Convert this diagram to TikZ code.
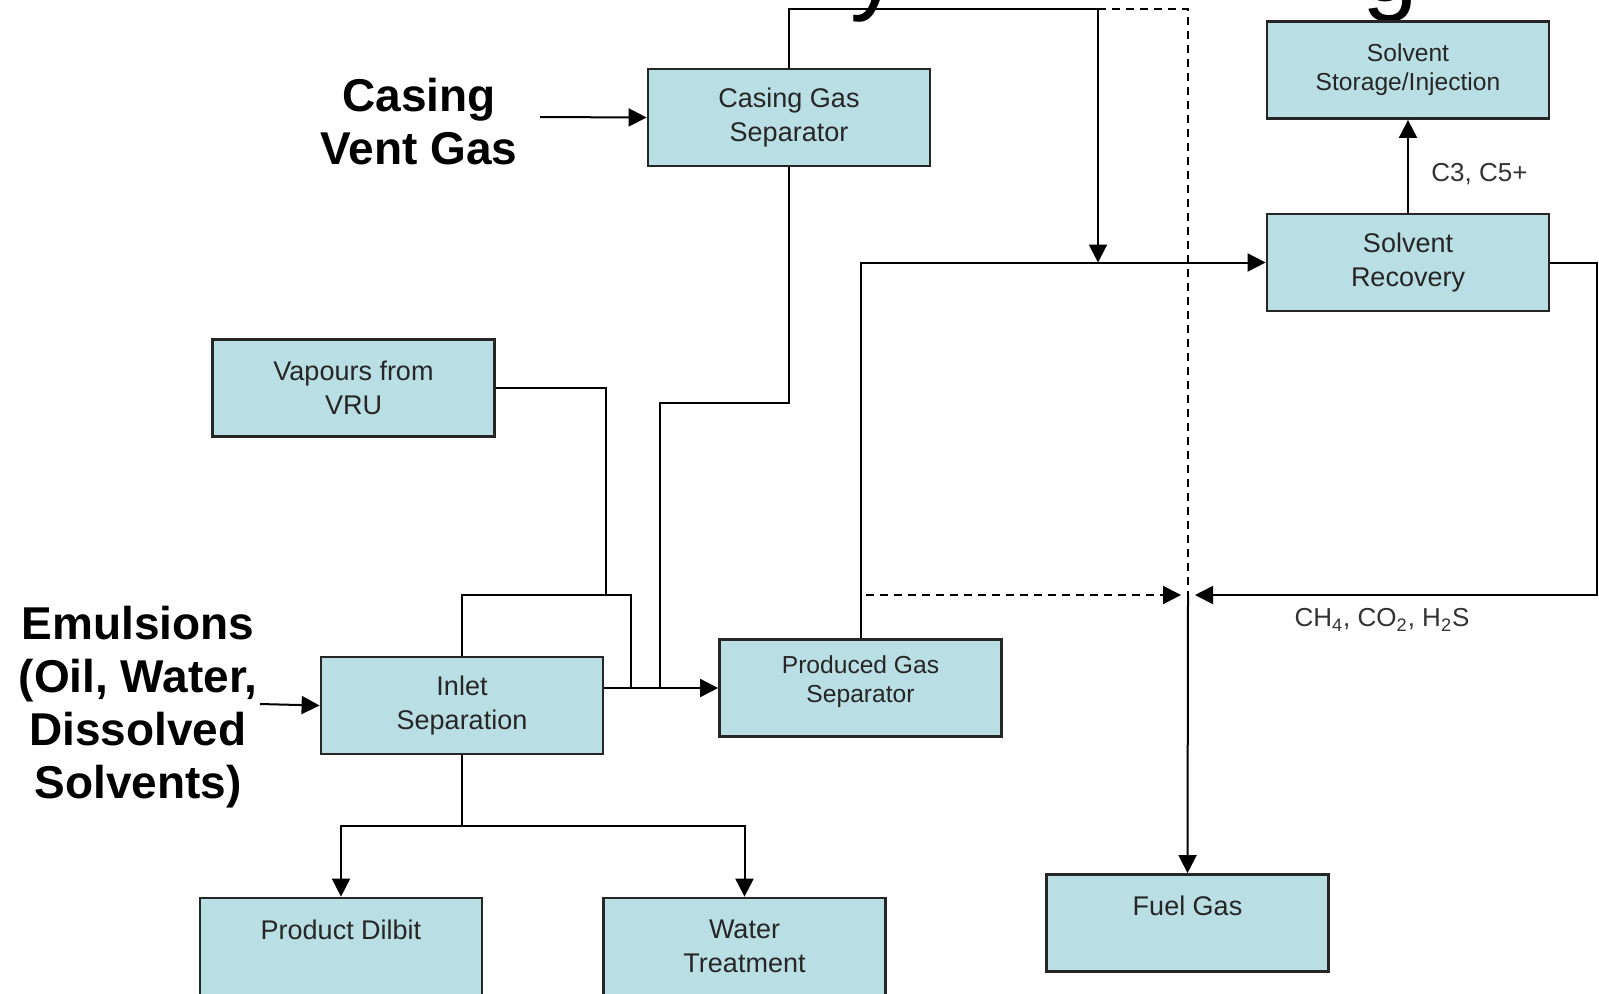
\documentclass[tikz,border=0pt]{standalone}
\usepackage{fontspec}
\setmainfont{Liberation Sans}
\usetikzlibrary{arrows.meta, positioning}
\definecolor{unitfill}{RGB}{185,222,228}

\begin{document}
\begin{tikzpicture}[
    x=0.5pt, y=-0.5pt,
    unit/.style={draw=black!85, line width=1.4pt, fill=unitfill, rectangle, minimum width=141pt, minimum height=48.5pt, inner sep=0pt, align=center, text=black!85, font=\fontsize{13.5}{17}\selectfont},
    small/.style={font=\fontsize{12.3}{14.5}\selectfont},
    feed/.style={align=center, inner sep=0pt, font=\fontsize{23}{26.5}\selectfont\bfseries},
    stream/.style={inner sep=0pt, text=black!80, font=\fontsize{13}{15}\selectfont},
    arrow/.style={-{Triangle[length=9pt, width=9pt]}, line width=1pt},
    pipe/.style={line width=1pt},
    spare/.style={line width=1pt, dash pattern=on 4pt off 3pt}
]
\useasboundingbox (0,0) rectangle (1599,993);
\clip (0,0) rectangle (1599,993);

% cut-off title
\node[anchor=base west, inner sep=0pt, font=\fontsize{50}{50}\selectfont] (ttly) at (850,1) {y};
\node[anchor=base west, inner sep=0pt, font=\fontsize{50}{50}\selectfont] (ttlg) at (1362,1) {g};

\node[unit] (csep) at (789,117.5) {Casing Gas\\Separator};
\node[unit, small] (store) at (1408,70) {Solvent\\Storage/Injection};
\node[unit] (recov) at (1408,262.5) {Solvent\\Recovery};
\node[unit] (vru) at (353.5,388) {Vapours from\\VRU};
\node[unit] (inlet) at (462,705.5) {Inlet\\Separation};
\node[unit, small, text depth=9pt] (pgs) at (860.5,688) {Produced Gas\\Separator};
\node[unit] (dilbit) at (341,946.5) {Product Dilbit\\~};
\node[unit] (water) at (744.5,946.5) {Water\\Treatment};
\node[unit] (fuel) at (1187.5,923) {Fuel Gas\\~};

\node[feed] (ventgas) at (419,122) {Casing\\Vent Gas};
\node[feed] (emul) at (138,707) {Emulsions\\(Oil, Water,\\Dissolved\\Solvents)};

\node[stream, anchor=west] (c3) at (1431,174) {C3, C5+};
\node[stream] (acid) at (1382,620) {CH\textsubscript{4}, CO\textsubscript{2}, H\textsubscript{2}S};

\coordinate (ventin) at (540,117);
\coordinate (emulin) at (260,704);
\coordinate (top) at (1098,9);
\coordinate (split) at (1188,9);
\coordinate (cross) at (1188,595);
\coordinate (edge) at (1597,595);
\coordinate (drop) at (660,403);
\coordinate (vrudrop) at (606,595);
\coordinate (loopR) at (631,595);
\coordinate (fork) at (462,826);

% feeds
\draw[arrow] (ventin) -- (csep.west);
\draw[arrow] (emulin) -- (inlet.west);

% casing gas
\draw[arrow] (csep.north) |- (top) -- (top |- recov.west);
\draw[spare] (top) -- (split) -- (cross);
\draw[arrow] (cross) -- (fuel.north);
\draw[pipe] (csep.south) |- (drop) -- (drop |- pgs.west);

% produced gas
\draw[arrow] (pgs.north) |- (recov.west);
\draw[spare, -{Triangle[length=9pt, width=9pt]}] ([xshift=2.5pt]pgs.north |- cross) -- ([xshift=-3.5pt]cross);
\draw[arrow] (recov.east) -| (edge) -- ([xshift=3.5pt]cross);
\draw[arrow] (recov.north) -- (store.south);

% inlet
\draw[pipe] (vru.east) -| (vrudrop);
\draw[pipe] (inlet.north) |- (loopR) -- (loopR |- pgs.west);
\draw[arrow] (inlet.east |- pgs.west) -- (pgs.west);
\draw[arrow] (inlet.south) -- (fork) -| (dilbit.north);
\draw[arrow] (fork) -| (water.north);
\end{tikzpicture}
\end{document}
